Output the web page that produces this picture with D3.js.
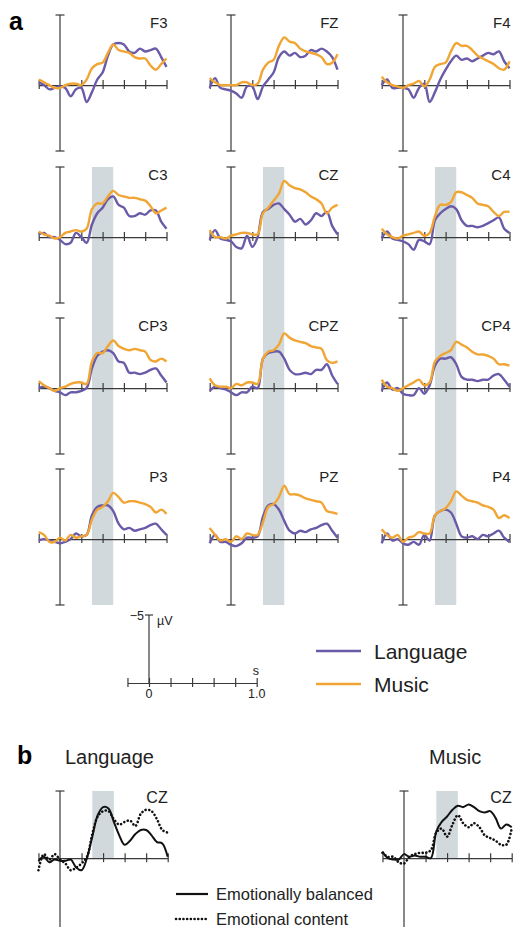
<!DOCTYPE html>
<html>
<head>
<meta charset="utf-8">
<script src="https://cdn.jsdelivr.net/npm/d3@7"></script>
<style>
  body { margin: 0; background: #fff; }
  svg { display: block; font-family: "Liberation Sans", Arial, sans-serif; }
</style>
</head>
<body>
<svg id="chart" width="513" height="927"></svg>
<script>
// time points (s), one value per 50 ms
const times = [-0.2, -0.15, -0.1, -0.05, 0, 0.05, 0.1, 0.15, 0.2, 0.25, 0.3, 0.35, 0.4,
  0.45, 0.5, 0.55, 0.6, 0.65, 0.7, 0.75, 0.8, 0.85, 0.9, 0.95, 1.0];
const xTicks = [-0.2, 0.2, 0.4, 0.6, 0.8, 1.0];
const scaleTicks = [-0.2, 0, 0.2, 0.4, 0.6, 0.8, 1.0];
const window300 = [0.3, 0.5];

// electrodes, row by row
const electrodes = ['F3', 'FZ', 'F4', 'C3', 'CZ', 'C4', 'CP3', 'CPZ', 'CP4', 'P3', 'PZ', 'P4'];

// ERP amplitudes in µV (negative plotted up)
const langF3 = [-0.2, 0, 0.3, 0.2, 0.1, 0.2, 0.8, 0.3, 0.2, 1.2, 0.5, -0.4, -0.9, -2.1, -2.9, -3.0, -2.9, -2.4, -2.3, -2.6, -2.4, -2.5, -2.6, -2.0, -1.3];
const musicF3 = [-0.4, -0.2, 0, 0.2, 0.2, 0, -0.1, -0.1, 0, -0.4, -1.2, -1.5, -1.6, -2.3, -2.9, -2.5, -2.4, -2.3, -2.0, -1.9, -1.9, -1.4, -1.1, -1.5, -1.9];
const langFZ = [0.2, -0.5, 0.2, 0.3, 0.4, 0.6, 0.9, 0.1, 0.1, 1.0, 0.1, -0.4, -0.9, -2.0, -2.4, -2.1, -2.3, -2.0, -2.1, -2.5, -2.4, -2.6, -2.4, -2.0, -1.1];
const musicFZ = [-0.5, -0.2, 0, 0, 0, 0, -0.2, -0.2, 0, -0.1, -1.1, -1.6, -1.8, -2.8, -3.4, -3.1, -3.0, -2.6, -2.4, -2.3, -2.2, -2.0, -1.5, -1.6, -2.2];
const langF4 = [0, -0.4, 0.2, 0.2, 0.2, 0.3, 0.9, 0.2, -0.1, 1.2, 0.5, -0.4, -1.1, -1.7, -2.1, -1.8, -1.9, -1.7, -1.9, -2.1, -2.3, -2.2, -2.4, -1.7, -1.2];
const musicF4 = [-0.6, -0.2, 0, 0.1, 0.2, 0, -0.1, -0.3, 0.1, -0.4, -1.3, -1.5, -1.6, -2.4, -3.0, -2.8, -2.8, -2.5, -2.1, -1.9, -1.7, -1.5, -1.2, -1.1, -1.7];
const langC3 = [-0.2, -0.3, 0, 0, 0.2, 0.5, 0.4, -0.3, 0, 0.4, -0.9, -1.7, -2.1, -2.7, -2.9, -2.3, -2.1, -1.5, -1.5, -1.7, -1.6, -1.9, -1.9, -1.1, -0.6];
const musicC3 = [-0.4, -0.2, -0.1, 0.1, 0, -0.3, -0.4, -0.5, -0.4, -0.6, -2.0, -2.4, -2.4, -2.9, -3.3, -3.0, -2.9, -2.8, -2.8, -2.7, -2.6, -2.2, -1.7, -1.9, -2.1];
const langCZ = [0.2, -0.5, 0.1, 0.2, 0.3, 0.7, 0.8, -0.1, 0.7, 0, -1.8, -2.0, -2.3, -2.4, -2.0, -1.6, -1.1, -1.3, -0.9, -1.2, -1.7, -1.5, -1.8, -0.8, -0.2];
const musicCZ = [-0.5, 0, 0, 0.1, -0.1, -0.2, -0.3, -0.3, -0.2, -0.2, -1.7, -2.1, -2.6, -3.1, -4.0, -3.7, -3.5, -3.4, -3.2, -2.9, -2.7, -2.4, -1.7, -2.1, -2.3];
const langC4 = [0.1, -0.4, 0.1, 0.2, 0.3, 0.5, 0.9, 0.2, 0.3, 0.5, -1.2, -1.7, -2.0, -2.2, -2.0, -1.2, -0.8, -0.8, -0.7, -0.8, -1.0, -1.2, -1.4, -0.6, -0.3];
const musicC4 = [-0.6, -0.2, 0, 0.1, -0.1, -0.2, -0.3, -0.4, -0.1, -0.3, -1.5, -2.3, -2.3, -2.5, -3.2, -3.2, -3.0, -2.8, -2.4, -2.3, -2.2, -1.8, -1.5, -1.8, -1.8];
const langCP3 = [0, -0.1, 0, 0.2, 0.3, 0.5, 0.3, 0.3, 0.2, 0, -1.4, -2.3, -2.6, -2.7, -2.5, -1.9, -1.8, -1.1, -1.1, -1.0, -1.1, -1.3, -1.4, -0.9, -0.4];
const musicCP3 = [-0.5, -0.2, 0, 0.2, 0, -0.1, -0.3, -0.4, -0.4, -0.3, -1.9, -2.5, -2.5, -3.0, -3.4, -3.0, -2.8, -2.7, -2.8, -2.7, -2.6, -2.0, -1.9, -2.1, -1.9];
const langCPZ = [0.2, -0.1, 0, 0.1, 0.3, 0.5, 0.3, 0.3, -0.1, 0, -2.1, -2.5, -2.6, -2.6, -2.1, -1.3, -1.0, -1.0, -1.1, -1.0, -1.3, -1.3, -1.7, -0.9, -0.3];
const musicCPZ = [-0.7, -0.2, -0.1, -0.1, 0, -0.3, -0.2, -0.4, -0.4, -0.3, -2.1, -2.6, -2.7, -3.1, -3.9, -3.6, -3.4, -3.3, -3.2, -3.0, -2.9, -2.8, -2.0, -1.8, -1.9];
const langCP4 = [0.2, -0.4, 0.1, 0, 0.4, 0.5, 0.5, 0, 0.4, -0.2, -1.6, -2.1, -2.1, -2.2, -1.7, -0.8, -0.6, -0.6, -0.5, -0.6, -0.6, -0.9, -1.0, -0.6, -0.1];
const musicCP4 = [-0.6, -0.1, 0, 0.2, 0, -0.2, -0.4, -0.6, -0.2, -0.4, -1.9, -2.3, -2.5, -2.7, -3.3, -3.1, -2.9, -2.6, -2.4, -2.4, -2.3, -2.1, -1.7, -1.7, -1.6];
const langP3 = [0.1, 0, 0.1, 0.2, 0.3, 0.2, 0, -0.4, -0.2, -0.3, -1.7, -2.3, -2.4, -2.4, -2.0, -1.1, -0.7, -0.8, -0.6, -0.7, -0.8, -1.0, -1.1, -0.7, -0.3];
const musicP3 = [-0.5, -0.3, 0.2, 0.2, -0.1, 0.1, -0.3, -0.1, -0.2, -0.3, -1.4, -2.1, -2.3, -2.7, -3.3, -3.0, -2.6, -2.7, -2.7, -2.6, -2.5, -2.3, -1.9, -2.1, -1.8];
const langPZ = [0.3, -0.3, 0.2, 0.2, 0.4, 0.5, 0.3, -0.1, -0.1, -0.2, -1.6, -2.4, -2.5, -2.1, -1.3, -0.6, -0.4, -0.6, -0.5, -0.7, -0.8, -1.0, -1.1, -0.6, -0.1];
const musicPZ = [-0.8, -0.3, 0.1, 0, 0.2, -0.2, 0, -0.4, -0.3, -0.3, -1.2, -2.3, -2.5, -3.0, -3.8, -3.2, -3.2, -3.1, -2.9, -2.8, -2.7, -2.6, -2.0, -1.9, -1.8];
const langP4 = [0.3, -0.4, 0.1, 0, 0.3, 0.4, 0.2, 0.4, -0.3, 0.1, -1.7, -2.0, -2.1, -1.9, -1.1, -0.2, -0.1, -0.2, 0, -0.3, -0.2, -0.4, -0.6, -0.1, 0.2];
const musicP4 = [-0.7, -0.3, -0.1, -0.3, 0.2, -0.1, -0.2, -0.5, -0.4, -0.4, -1.7, -2.0, -2.2, -2.7, -3.4, -3.1, -2.8, -2.7, -2.6, -2.4, -2.3, -2.1, -1.5, -1.7, -1.5];

// panel b, CZ
const balancedLang = [0.2, -0.1, 0.3, 0.1, 0.2, 0.2, 0.1, 0.7, 0.9, 0, -1.6, -3.2, -3.8, -3.7, -2.7, -1.7, -1.0, -1.3, -1.8, -2.1, -2.1, -1.7, -1.2, -1.1, -0.1];
const contentLang = [0.9, -0.3, 0.1, -0.3, 0.1, 0.4, 0.9, 0.7, 0.4, -0.1, -1.8, -3.1, -3.5, -3.5, -2.9, -2.5, -2.7, -2.8, -2.4, -3.3, -3.6, -3.5, -2.9, -2.1, -1.9];
const balancedMusic = [-0.5, 0, 0.1, 0.1, -0.3, -0.1, -0.2, -0.1, -0.1, 0, -2.0, -2.7, -3.1, -3.6, -3.9, -3.8, -4.0, -3.8, -3.5, -3.4, -3.5, -3.0, -2.2, -2.5, -2.3];
const contentMusic = [-0.4, -0.1, -0.1, 0.3, 0.4, -0.1, -0.3, -0.4, -0.4, -0.6, -1.9, -2.2, -1.6, -2.5, -3.2, -2.6, -2.3, -2.6, -2.3, -1.7, -1.5, -1.3, -1.0, -1.0, -2.2];

const langSeries = [langF3, langFZ, langF4, langC3, langCZ, langC4, langCP3, langCPZ, langCP4, langP3, langPZ, langP4];
const musicSeries = [musicF3, musicFZ, musicF4, musicC3, musicCZ, musicC4, musicCP3, musicCPZ, musicCP4, musicP3, musicPZ, musicP4];

const purple = '#6a5aa8';
const orange = '#f0a534';
const bandColor = '#d1d9dc';
const axisColor = '#3a3a3a';

const svg = d3.select('#chart');

// layout
const colX = [60, 231, 403];
const rowTop = [15, 167, 318, 469];
const pxPerSec = 106.5;
const panelH = 136;

function makeX(axisX, pps) {
  return d3.scaleLinear().domain([-0.2, 1.0]).range([axisX - 0.2 * pps, axisX + pps]);
}
function makeY(top, h, lo) {
  return d3.scaleLinear().domain([-5, lo]).range([top, top + h]);
}

function drawAxes(g, x, y) {
  const x0 = x(0);
  const [yTop, yBot] = y.range();
  g.append('line').attr('x1', x0).attr('x2', x0).attr('y1', yTop).attr('y2', yBot)
    .attr('stroke', axisColor).attr('stroke-width', 1.2);
  [yTop, yBot].forEach(v => {
    g.append('line').attr('x1', x0 - 4.5).attr('x2', x0 + 4.5).attr('y1', v).attr('y2', v)
      .attr('stroke', axisColor).attr('stroke-width', 1.2);
  });
  const ax = g.append('g').attr('transform', `translate(0,${y(0)})`)
    .call(d3.axisBottom(x).tickValues(xTicks).tickSize(4).tickSizeOuter(0).tickFormat(''));
  ax.select('.domain').attr('stroke', axisColor).attr('stroke-width', 1.2);
  ax.selectAll('.tick line').attr('y1', -5).attr('y2', 4).attr('stroke', axisColor).attr('stroke-width', 1.2);
}

const line = (x, y) => d3.line().x((d, i) => x(times[i])).y(d => y(d)).curve(d3.curveCatmullRom.alpha(0.5));

// shaded 300-500 ms window behind rows 2-4
colX.forEach(cx => {
  const x = makeX(cx, pxPerSec);
  const yA = makeY(rowTop[1], panelH, 4.7);
  const yB = makeY(rowTop[3], panelH, 4.7);
  svg.append('rect')
    .attr('x', x(window300[0])).attr('width', x(window300[1]) - x(window300[0]))
    .attr('y', yA(-5)).attr('height', yB(4.7) - yA(-5))
    .attr('fill', bandColor);
});

electrodes.forEach((name, k) => {
  const r = Math.floor(k / 3), c = k % 3;
  const x = makeX(colX[c], pxPerSec);
  const y = makeY(rowTop[r], panelH, 4.7);
  const g = svg.append('g');
  drawAxes(g, x, y);
  g.append('path').datum(langSeries[k]).attr('d', line(x, y))
    .attr('fill', 'none').attr('stroke', purple).attr('stroke-width', 2.4);
  g.append('path').datum(musicSeries[k]).attr('d', line(x, y))
    .attr('fill', 'none').attr('stroke', orange).attr('stroke-width', 2.4);
  g.append('text').attr('x', x(1.0) + 1).attr('y', rowTop[r] + 13)
    .attr('text-anchor', 'end').attr('font-size', 15).attr('fill', '#222').text(name);
});

svg.append('text').attr('x', 9).attr('y', 30).attr('font-size', 25).attr('font-weight', 'bold').text('a');

// scale bar
{
  const xs = makeX(149, 107.7);
  const ys = d3.scaleLinear().domain([-5, 0]).range([615, 683]);
  const g = svg.append('g');
  g.append('line').attr('x1', xs(0)).attr('x2', xs(0)).attr('y1', ys(-5)).attr('y2', ys(0))
    .attr('stroke', axisColor).attr('stroke-width', 1.2);
  g.append('line').attr('x1', xs(0) - 4).attr('x2', xs(0) + 4).attr('y1', ys(-5)).attr('y2', ys(-5))
    .attr('stroke', axisColor).attr('stroke-width', 1.2);
  const ax = g.append('g').attr('transform', `translate(0,${ys(0)})`)
    .call(d3.axisBottom(xs).tickValues(scaleTicks).tickSize(4).tickSizeOuter(0).tickFormat(''));
  ax.select('.domain').attr('stroke', axisColor).attr('stroke-width', 1.2);
  ax.selectAll('.tick line').attr('y1', -5).attr('y2', 4).attr('stroke', axisColor).attr('stroke-width', 1.2);
  g.append('text').attr('x', xs(0) - 5).attr('y', ys(-5) + 5).attr('text-anchor', 'end')
    .attr('font-size', 12.5).attr('fill', '#222').text('\u22125');
  g.append('text').attr('x', xs(0) + 8).attr('y', ys(-5) + 10).attr('font-size', 12.5).attr('fill', '#222').text('µV');
  g.append('text').attr('x', xs(1.0) - 4).attr('y', ys(0) - 8).attr('font-size', 12.5).attr('fill', '#222').text('s');
  g.append('text').attr('x', xs(0)).attr('y', ys(0) + 15).attr('text-anchor', 'middle')
    .attr('font-size', 12.5).attr('fill', '#222').text('0');
  g.append('text').attr('x', xs(1.0)).attr('y', ys(0) + 15).attr('text-anchor', 'middle')
    .attr('font-size', 12.5).attr('fill', '#222').text('1.0');
}

// legend a
[['Language', purple, 651], ['Music', orange, 684]].forEach(([label, col, yy]) => {
  svg.append('line').attr('x1', 316).attr('x2', 361).attr('y1', yy).attr('y2', yy)
    .attr('stroke', col).attr('stroke-width', 2.6);
  svg.append('text').attr('x', 374).attr('y', yy + 8).attr('font-size', 21).attr('fill', '#222').text(label);
});

// panel b
svg.append('text').attr('x', 17).attr('y', 764).attr('font-size', 25).attr('font-weight', 'bold').text('b');
svg.append('text').attr('x', 65).attr('y', 764).attr('font-size', 20).attr('fill', '#222').text('Language');
svg.append('text').attr('x', 429).attr('y', 764).attr('font-size', 20).attr('fill', '#222').text('Music');

[[60, balancedLang, contentLang], [404, balancedMusic, contentMusic]].forEach(([cx, solid, dotted]) => {
  const x = makeX(cx, 107.7);
  const y = makeY(791, 137, 5.2);
  const g = svg.append('g');
  g.append('rect').attr('x', x(window300[0])).attr('width', x(window300[1]) - x(window300[0]))
    .attr('y', y(-5)).attr('height', y(0) - y(-5)).attr('fill', bandColor);
  drawAxes(g, x, y);
  g.append('path').datum(dotted).attr('d', line(x, y))
    .attr('fill', 'none').attr('stroke', '#111').attr('stroke-width', 2.6)
    .attr('stroke-dasharray', '0.1,3.6').attr('stroke-linecap', 'round');
  g.append('path').datum(solid).attr('d', line(x, y))
    .attr('fill', 'none').attr('stroke', '#111').attr('stroke-width', 2);
  g.append('text').attr('x', x(1.0)).attr('y', 803).attr('text-anchor', 'end')
    .attr('font-size', 16).attr('fill', '#222').text('CZ');
});

// legend b
svg.append('line').attr('x1', 176).attr('x2', 208).attr('y1', 894).attr('y2', 894)
  .attr('stroke', '#111').attr('stroke-width', 2.2);
svg.append('line').attr('x1', 176).attr('x2', 208).attr('y1', 919).attr('y2', 919)
  .attr('stroke', '#111').attr('stroke-width', 2.6).attr('stroke-dasharray', '0.1,3.6').attr('stroke-linecap', 'round');
svg.append('text').attr('x', 216).attr('y', 900).attr('font-size', 16.5).attr('fill', '#222').text('Emotionally balanced');
svg.append('text').attr('x', 216).attr('y', 925).attr('font-size', 16.5).attr('fill', '#222').text('Emotional content');
</script>
</body>
</html>
